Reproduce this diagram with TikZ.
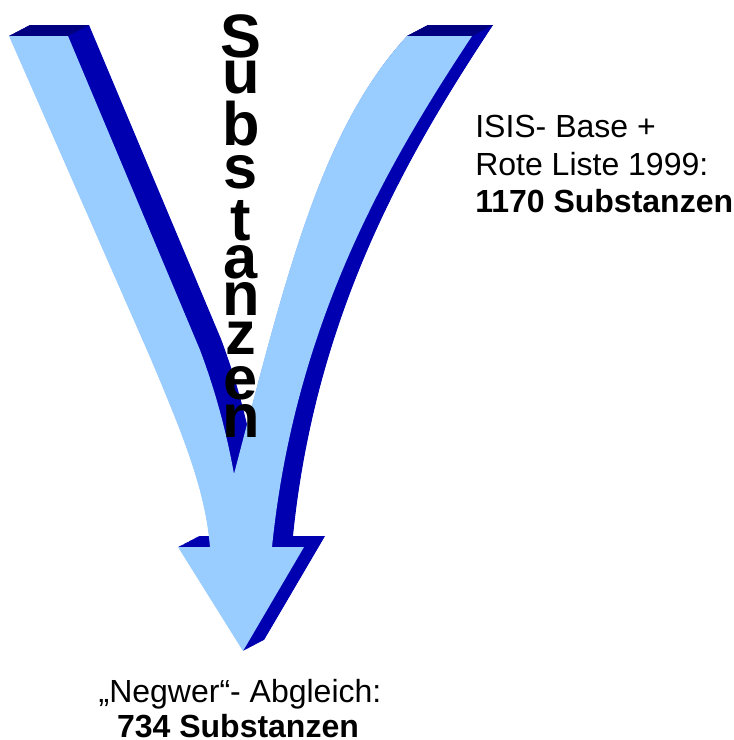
\documentclass[tikz,border=0pt]{standalone}
\usepackage{fontspec}
\setmainfont{Liberation Sans}
\definecolor{lightface}{HTML}{99CCFF}
\definecolor{sideface}{HTML}{0000B0}
\definecolor{topface}{HTML}{000080}
\newcommand\vshape{(9,36) -- (68,36) -- (200,350) .. controls (215,390) and (226,430) .. (234,474)
  .. controls (285,280) and (320,130) .. (407,36) -- (472,36)
  .. controls (390,160) and (295,320) .. (272,547) -- (304,547) -- (243,651) -- (178,547) -- (210,547)
  .. controls (205,490) and (185,440) .. (150,357) -- cycle}
\begin{document}
\begin{tikzpicture}[x=0.75pt,y=-0.75pt,
  bodytext/.style={font=\fontsize{24}{28}\selectfont, inner sep=0pt, text height=17pt, text depth=0pt},
  vletter/.style={font=\fontsize{46}{46}\selectfont\bfseries, inner sep=0pt, anchor=base, text height=24pt, text depth=0pt}]
\useasboundingbox (0,0) rectangle (734,740);
% extrusion (side faces)
\foreach \k in {1,...,40} {\fill[sideface, shift={(21*\k/40,-11*\k/40)}] \vshape;}
% top faces
\fill[topface] (9,36) -- (30,25) -- (89,25) -- (68,36) -- cycle;
\fill[topface] (407,36) -- (428,25) -- (493,25) -- (472,36) -- cycle;
% front face
\fill[lightface] \vshape;
% vertical word
\foreach \ch/\yy/\nm in {S/57/v1, u/93/v2, b/145/v3, s/188/v4, t/240/v5, a/278/v6, n/315/v7, z/354/v8, e/399/v9, n/437/v10}
  {\node[vletter] (\nm) at (241,\yy) {\ch};}
% right label
\node[bodytext, anchor=base west] (r1) at (475,137) {ISIS- Base +};
\node[bodytext, anchor=base west] (r2) at (475,175) {Rote Liste 1999:};
\node[bodytext, anchor=base west] (r3) at (475,212) {\bfseries 1170 Substanzen};
% bottom label
\node[bodytext, anchor=base] (b1) at (240,702) {„Negwer“- Abgleich:};
\node[bodytext, anchor=base] (b2) at (238,737) {\bfseries 734 Substanzen};
\end{tikzpicture}
\end{document}
